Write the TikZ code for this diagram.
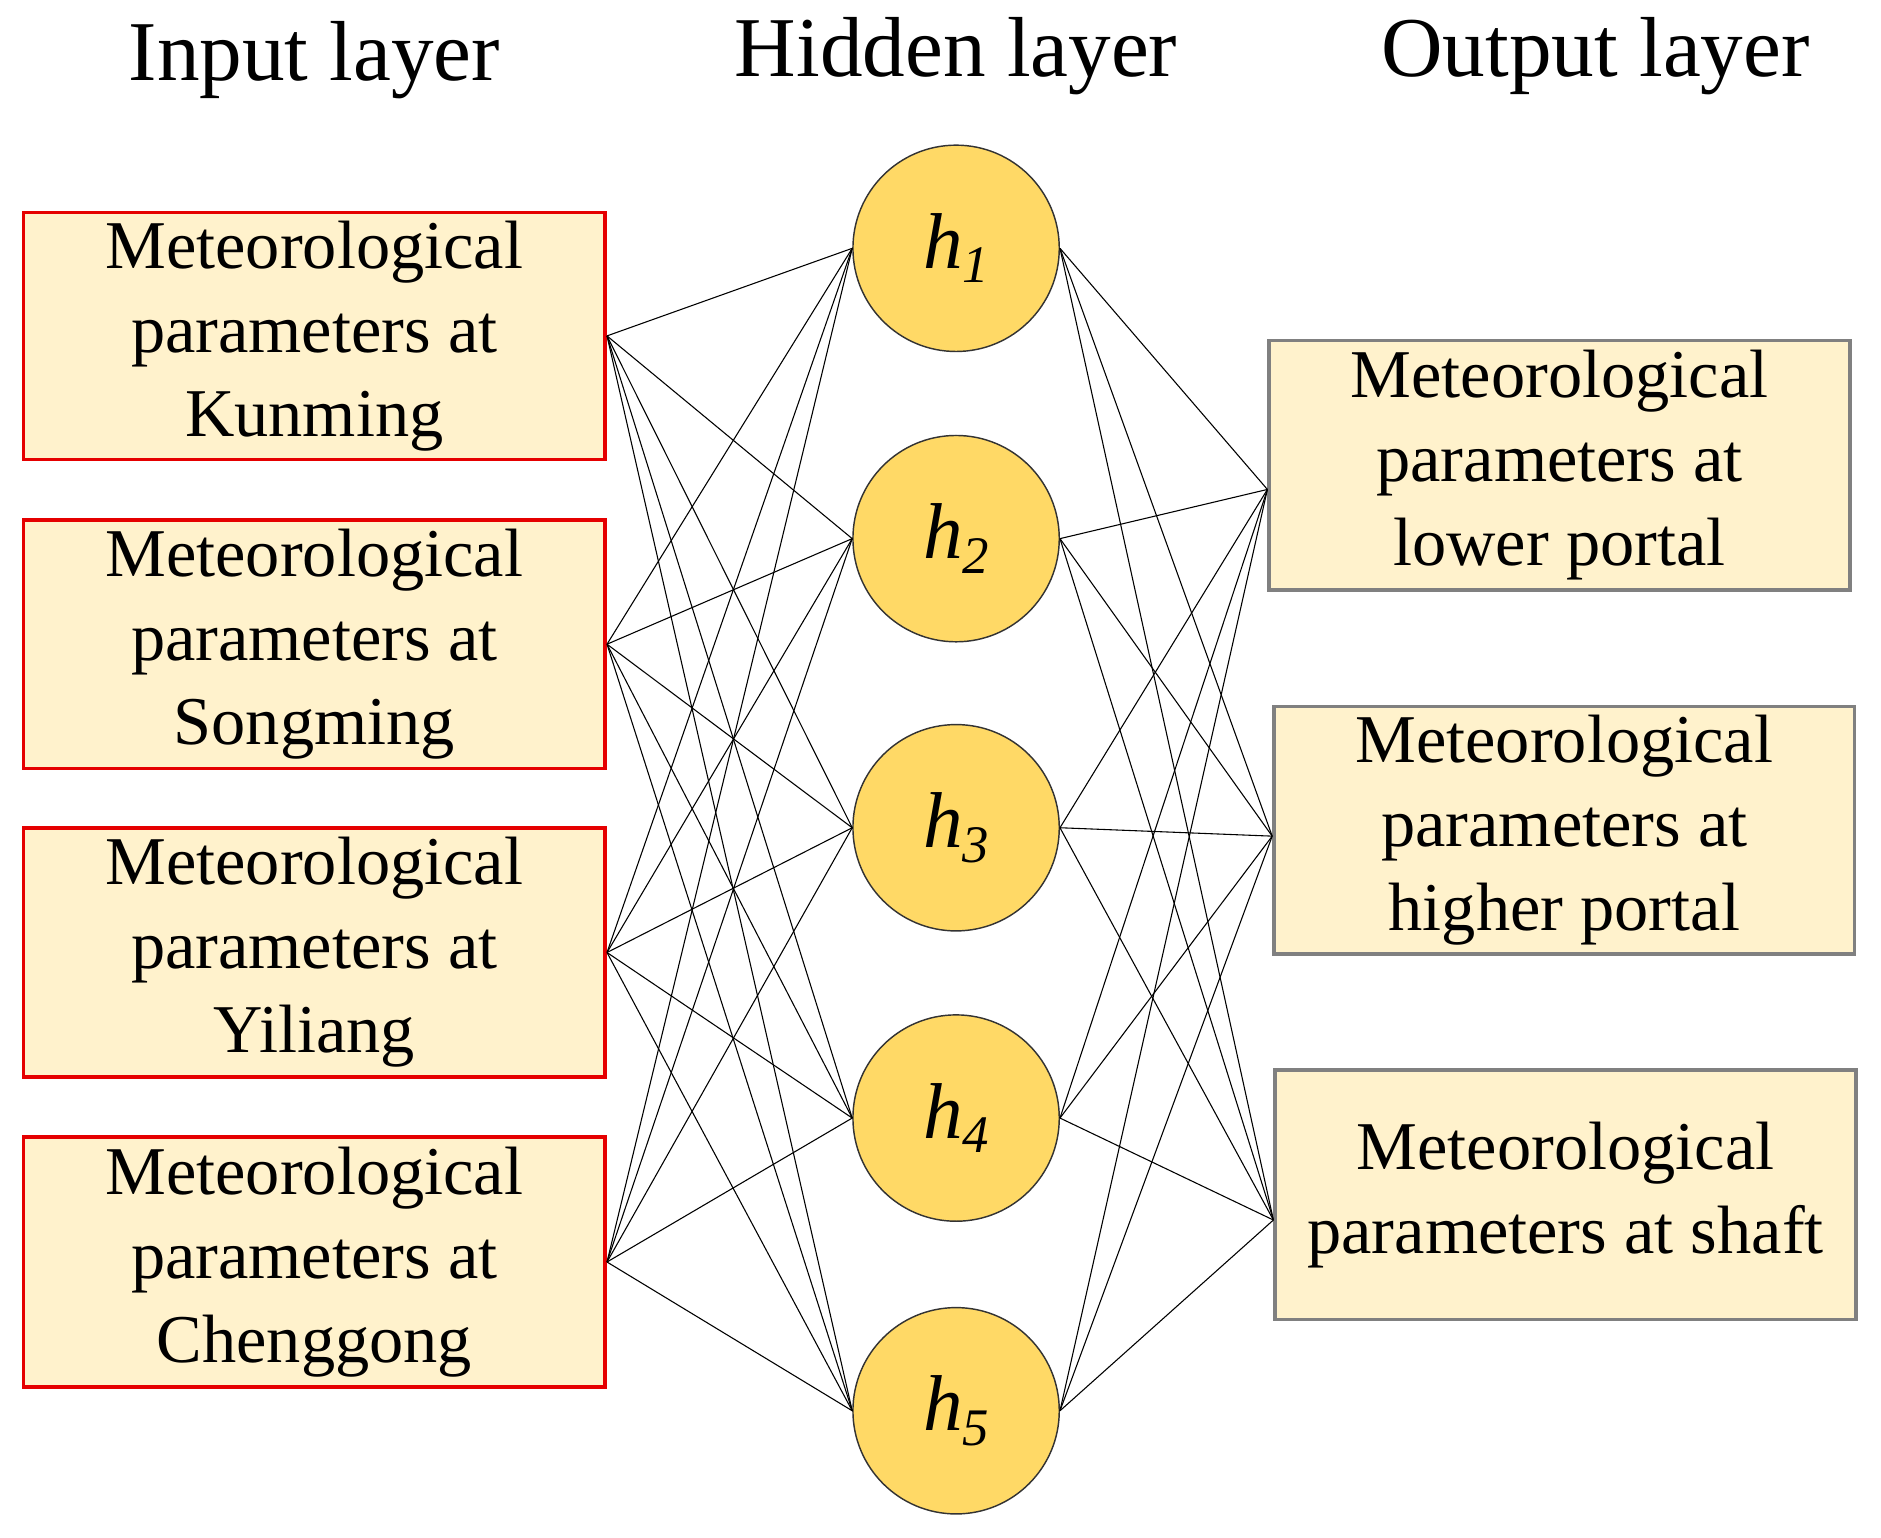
\documentclass[tikz,border=0pt]{standalone}
\usepackage{fontspec}
\setmainfont{Liberation Serif}
\definecolor{boxfill}{RGB}{255,242,204}
\definecolor{hidfill}{RGB}{255,217,102}
\newcommand{\hsub}[1]{h\raisebox{-12pt}{\fontsize{44}{50}\selectfont #1}}
\begin{document}
\begin{tikzpicture}[x=1pt,y=-1pt,
  inbox/.style={draw=red!90!black,line width=3pt,fill=boxfill,minimum width=485pt,inner sep=0pt,align=center,font=\fontsize{57}{70}\selectfont},
  outbox/.style={draw=gray,line width=3pt,fill=boxfill,minimum width=484pt,inner sep=0pt,align=center,font=\fontsize{57}{70}\selectfont},
  hid/.style={circle,draw=black!80,line width=1.2pt,fill=hidfill,minimum size=172pt,inner sep=0pt,font=\fontsize{66}{70}\selectfont\itshape},
  title/.style={font=\fontsize{71}{80}\selectfont},
  conn/.style={line width=0.9pt}]
\useasboundingbox (0,0) rectangle (1568,1282);
\fill[white] (0,0) rectangle (1568,1282);
\node[title] (t1) at (262,50) {Input layer};
\node[title] (t2) at (797,47) {Hidden layer};
\node[title] (t3) at (1330,47) {Output layer};
\node[inbox,minimum height=206pt] (i1) at (262,280) {Meteorological\\parameters at\\Kunming};
\node[inbox,minimum height=207pt] (i2) at (262,537) {Meteorological\\parameters at\\Songming};
\node[inbox,minimum height=208pt] (i3) at (262,794) {Meteorological\\parameters at\\Yiliang};
\node[inbox,minimum height=208pt] (i4) at (262,1052) {Meteorological\\parameters at\\Chenggong};
\foreach \i/\y in {1/207,2/449,3/690,4/932,5/1176}
  \node[hid] (h\i) at (797,\y) {\hsub{\i}};
\node[outbox,minimum height=208pt] (o1) at (1300,388) {Meteorological\\parameters at\\lower portal};
\node[outbox,minimum height=206pt] (o2) at (1304,692) {Meteorological\\parameters at\\higher portal};
\node[outbox,minimum height=208pt] (o3) at (1305,996) {Meteorological\\parameters at shaft};
\coordinate (p1) at ([yshift=-20pt]o1.west);
\coordinate (p2) at ([yshift=-5pt]o2.west);
\coordinate (p3) at ([yshift=-21pt]o3.west);
\foreach \i in {1,...,4}
  \foreach \j in {1,...,5}
    \draw[conn] (i\i.east) -- (h\j.west);
\foreach \j in {1,...,5}
  \foreach \k in {1,...,3}
    \draw[conn] (h\j.east) -- (p\k);
\end{tikzpicture}
\end{document}
